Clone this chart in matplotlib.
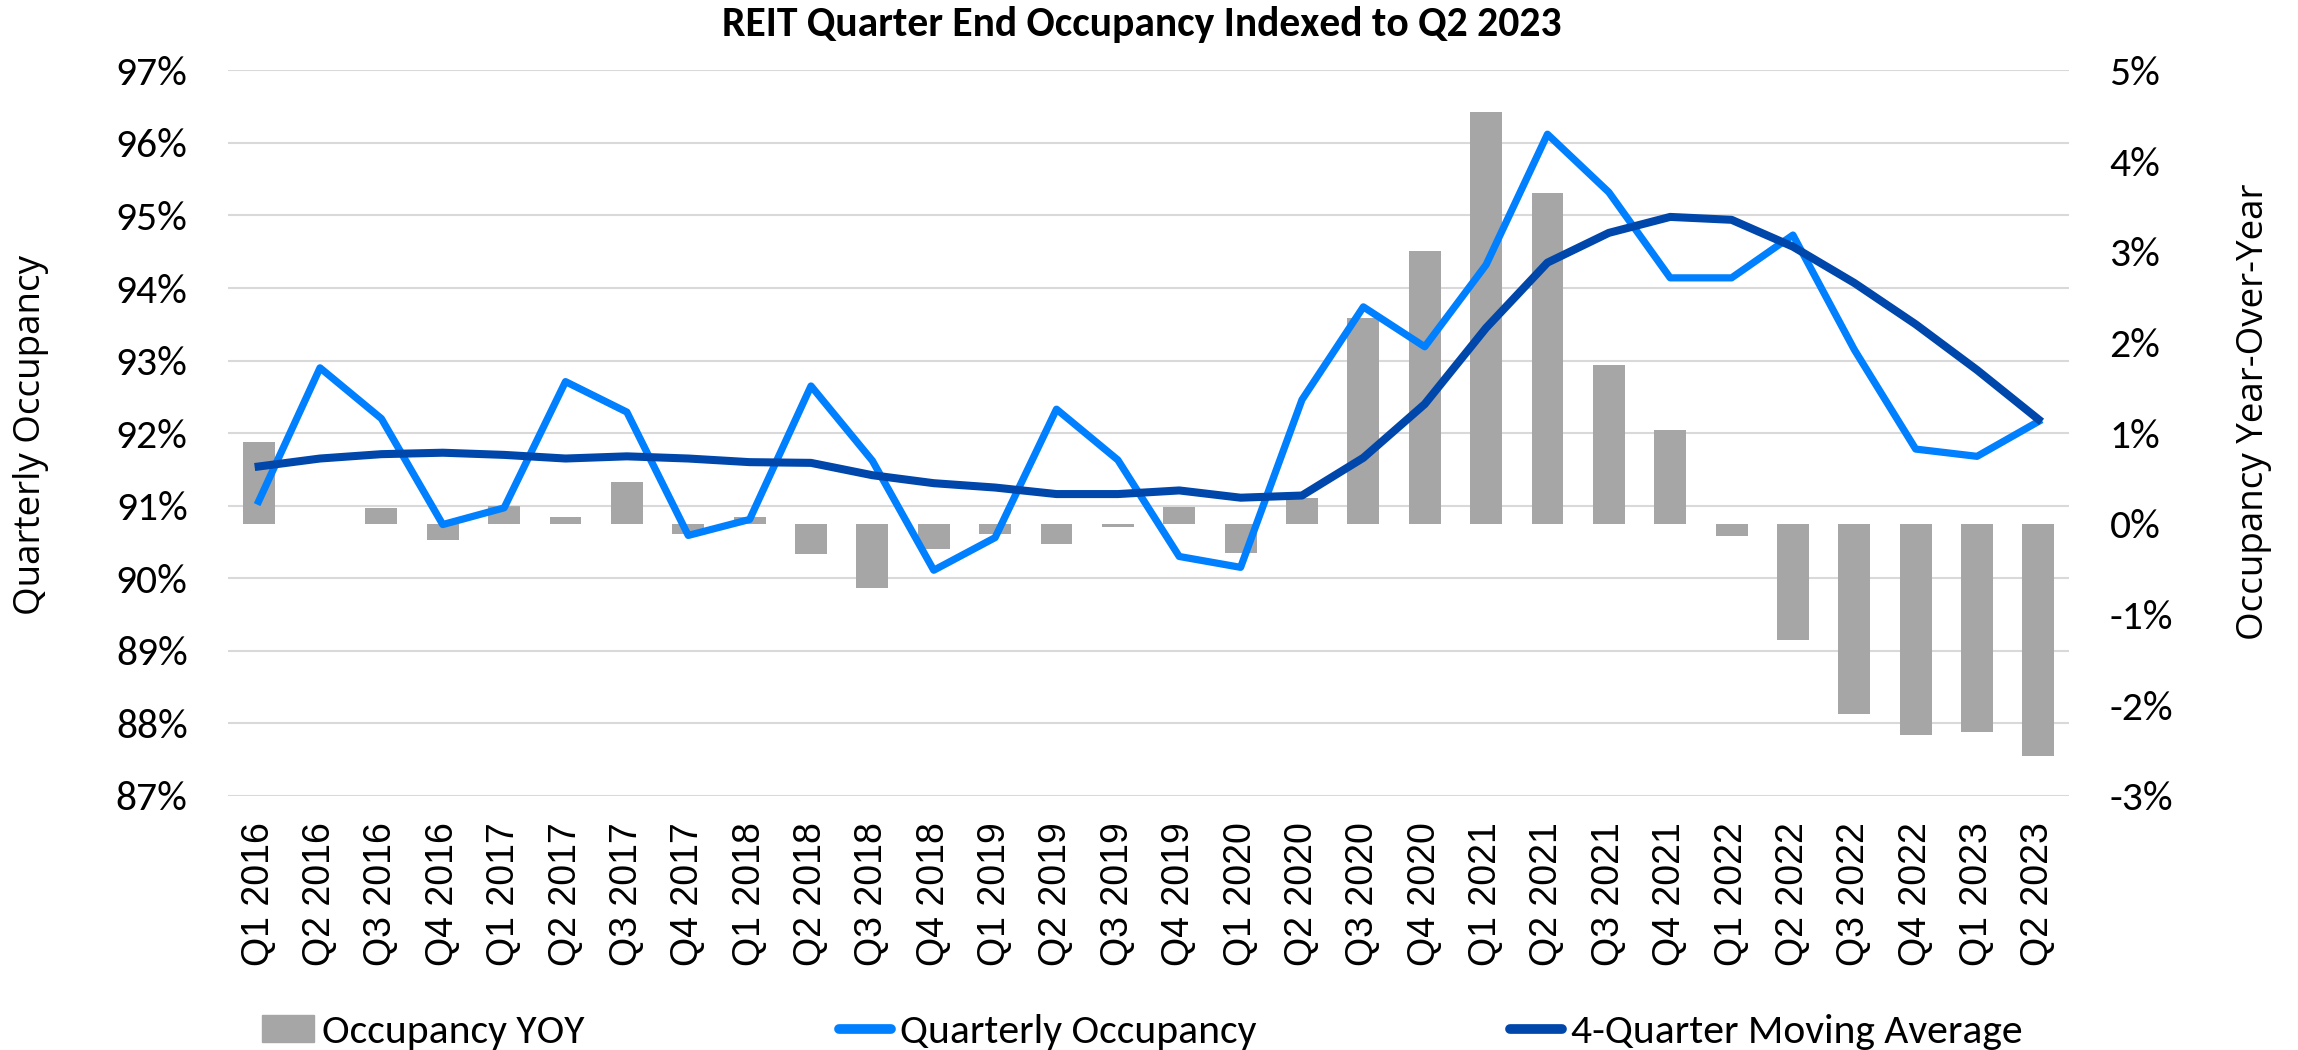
import matplotlib
matplotlib.use("Agg")
import matplotlib.pyplot as plt
from matplotlib.patches import Patch
from matplotlib.lines import Line2D

quarters = ["Q1 2016", "Q2 2016", "Q3 2016", "Q4 2016",
            "Q1 2017", "Q2 2017", "Q3 2017", "Q4 2017",
            "Q1 2018", "Q2 2018", "Q3 2018", "Q4 2018",
            "Q1 2019", "Q2 2019", "Q3 2019", "Q4 2019",
            "Q1 2020", "Q2 2020", "Q3 2020", "Q4 2020",
            "Q1 2021", "Q2 2021", "Q3 2021", "Q4 2021",
            "Q1 2022", "Q2 2022", "Q3 2022", "Q4 2022",
            "Q1 2023", "Q2 2023"]

# quarterly occupancy, % (left axis)
occupancy = [91.06, 92.90, 92.20, 90.74, 90.97, 92.71, 92.29, 90.59,
             90.81, 92.65, 91.62, 90.11, 90.56, 92.33, 91.63, 90.30,
             90.15, 92.46, 93.74, 93.19, 94.32, 96.12, 95.32, 94.14,
             94.14, 94.73, 93.15, 91.78, 91.68, 92.16]

# 4-quarter moving average, % (left axis)
moving_avg = [91.54, 91.65, 91.71, 91.73, 91.70, 91.65, 91.68, 91.65,
              91.60, 91.59, 91.42, 91.31, 91.25, 91.16, 91.16, 91.21,
              91.11, 91.14, 91.66, 92.40, 93.45, 94.35, 94.76, 94.98,
              94.94, 94.57, 94.07, 93.50, 92.87, 92.19]

# year-over-year change, percentage points (right axis)
yoy = [0.90, 0.00, 0.17, -0.18, 0.20, 0.08, 0.46, -0.11,
       0.08, -0.33, -0.71, -0.28, -0.11, -0.22, -0.04, 0.19,
       -0.32, 0.29, 2.27, 3.01, 4.54, 3.65, 1.75, 1.03,
       -0.13, -1.28, -2.10, -2.33, -2.30, -2.56]

left_ticks = list(range(87, 98))
right_ticks = list(range(-3, 6))

CAL = ["Carlito", "Liberation Sans", "DejaVu Sans"]
ARIAL = ["Liberation Sans", "DejaVu Sans"]
LABEL = ["Open Sans", "DejaVu Sans"]
BAR_C = "#A6A6A6"
LIGHT = "#0080FF"
DARK = "#0047AB"

fig = plt.figure(figsize=(22.98, 10.5), dpi=100)
ax = fig.add_axes([0.0992, 0.242, 0.8012, 0.691])
x = list(range(len(quarters)))

# left axis: gridlines + ticks
ax.set_ylim(87, 97)
ax.set_xlim(-0.5, len(quarters) - 0.5)
ax.set_yticks(left_ticks)
ax.set_yticklabels([f"{t}%" for t in left_ticks], family=CAL, fontsize=30)
ax.set_xticks(x)
ax.set_xticklabels(quarters, rotation=90, family=ARIAL, fontsize=27)
ax.grid(axis="y", color="#D9D9D9", linewidth=1.5)
ax.set_axisbelow(True)
ax.tick_params(axis="y", length=0, pad=29)
ax.tick_params(axis="x", length=0, pad=19)
for s in ax.spines.values():
    s.set_visible(False)

# right axis: bars
ax2 = ax.twinx()
ax2.bar(x, yoy, width=0.52, color=BAR_C)
ax2.set_ylim(-3, 5)
ax2.set_yticks(right_ticks)
ax2.set_yticklabels([f"{t}%" for t in right_ticks], family=CAL, fontsize=30)
ax2.tick_params(axis="y", length=0, pad=29)
for s in ax2.spines.values():
    s.set_visible(False)

# lines on top, sharing the left scale
ax3 = ax.twinx()
ax3.set_ylim(87, 97)
ax3.plot(x, occupancy, color=LIGHT, linewidth=5.2, solid_joinstyle="round")
ax3.plot(x, moving_avg, color=DARK, linewidth=5.8, solid_joinstyle="round")
ax3.set_yticks([])
for s in ax3.spines.values():
    s.set_visible(False)

fig.text(0.497, 0.977, "REIT Quarter End Occupancy Indexed to Q2 2023",
         ha="center", va="center", family=CAL, fontsize=30, fontweight="bold")
fig.text(0.0135, 0.586, "Quarterly Occupancy", rotation=90,
         ha="center", va="center", family=LABEL, fontsize=26.5)
fig.text(0.981, 0.608, "Occupancy Year-Over-Year", rotation=90,
         ha="center", va="center", family=LABEL, fontsize=26.5)

handles = [Patch(color=BAR_C),
           Line2D([], [], color=LIGHT, linewidth=7, solid_capstyle="round"),
           Line2D([], [], color=DARK, linewidth=7, solid_capstyle="round")]
labels = ["Occupancy YOY", "Quarterly Occupancy", "4-Quarter Moving Average"]
fig.legend(handles, labels, loc="lower center", bbox_to_anchor=(0.497, -0.036),
           ncol=3, frameon=False, prop={"family": CAL, "size": 30},
           handlelength=1.25, handleheight=0.6, handletextpad=0.2,
           columnspacing=6.1)

fig.savefig("out.png", dpi=100)
